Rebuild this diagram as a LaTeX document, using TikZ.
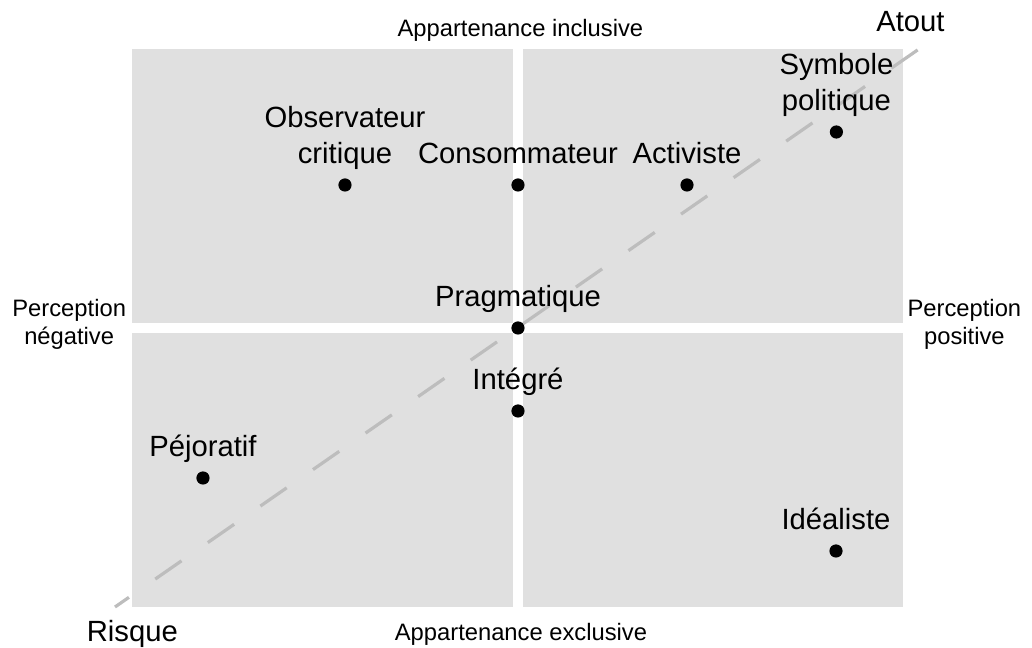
\documentclass[tikz,border=0pt]{standalone}
\usepackage{fontspec}
\setmainfont{Liberation Sans}
\usepackage{xcolor}
\usepackage{tikz}
\usetikzlibrary{positioning,backgrounds}
\pgfdeclarelayer{edgelayer}
\pgfdeclarelayer{nodelayer}
\pgfsetlayers{background,edgelayer,nodelayer,main}
\definecolor{quadgrey}{RGB}{224,224,224}
\definecolor{diaggrey}{RGB}{189,189,189}
\tikzstyle{none}=[inner sep=0mm]
\tikzstyle{black dot}=[inner sep=0mm,minimum width=0.33cm,fill=black,draw=none,shape=circle]
\tikzstyle{quad}=[fill=quadgrey,draw=none]
\tikzstyle{diag}=[draw=diaggrey,line width=0.08cm,dash pattern=on 0.8cm off 0.8cm,dash phase=0.375cm]
\tikzstyle{lbl}=[inner sep=0mm,align=center,text depth=0pt,anchor=south,font=\fontsize{20.8}{25.6}\selectfont]
\tikzstyle{axis lbl}=[lbl,font=\fontsize{16.9}{19.9}\selectfont]

\begin{document}
\begin{tikzpicture}
	\useasboundingbox (-12.95, -8) rectangle (12.85, 8.2);
	\begin{pgfonlayer}{background}
		\fill [style=quad] (-9.65, 0.13) rectangle (-0.125, 6.975);
		\fill [style=quad] (0.125, 0.13) rectangle (9.625, 6.975);
		\fill [style=quad] (-9.65, -6.975) rectangle (-0.125, -0.13);
		\fill [style=quad] (0.125, -6.975) rectangle (9.625, -0.13);
	\end{pgfonlayer}
	\begin{pgfonlayer}{nodelayer}
		\node [style=black dot] (0) at (-4.325, 3.575) {};
		\node [style=black dot] (1) at (0, 3.575) {};
		\node [style=black dot] (2) at (4.225, 3.575) {};
		\node [style=black dot] (3) at (7.96, 4.9) {};
		\node [style=black dot] (4) at (0, 0) {};
		\node [style=black dot] (5) at (0, -2.075) {};
		\node [style=black dot] (6) at (-7.875, -3.75) {};
		\node [style=black dot] (7) at (7.95, -5.575) {};
		\node [style=lbl, above=0.36cm of 0] (10) {Observateur\\critique};
		\node [style=lbl, above=0.36cm of 1] (11) {Consommateur};
		\node [style=lbl, above=0.36cm of 2] (12) {Activiste};
		\node [style=lbl, above=0.36cm of 3] (13) {Symbole\\politique};
		\node [style=lbl, above=0.36cm of 4] (14) {Pragmatique};
		\node [style=lbl, above=0.36cm of 5] (15) {Intégré};
		\node [style=lbl, above=0.36cm of 6] (16) {Péjoratif};
		\node [style=lbl, above=0.36cm of 7] (17) {Idéaliste};
		\node [style=axis lbl] (20) at (0.06, 7.28) {Appartenance inclusive};
		\node [style=axis lbl] (21) at (0.075, -7.825) {Appartenance exclusive};
		\node [style=axis lbl] (22) at (-11.22, -0.425) {Perception\\négative};
		\node [style=axis lbl] (23) at (11.16, -0.425) {Perception\\positive};
		\node [style=lbl] (24) at (9.81, 7.4) {Atout};
		\node [style=lbl] (25) at (-9.64, -7.85) {Risque};
		\node [style=none] (30) at (-10.075, -6.975) {};
		\node [style=none] (31) at (10.025, 6.975) {};
	\end{pgfonlayer}
	\begin{pgfonlayer}{edgelayer}
		\draw [style=diag] (30.center) to (31.center);
	\end{pgfonlayer}
\end{tikzpicture}
\end{document}
